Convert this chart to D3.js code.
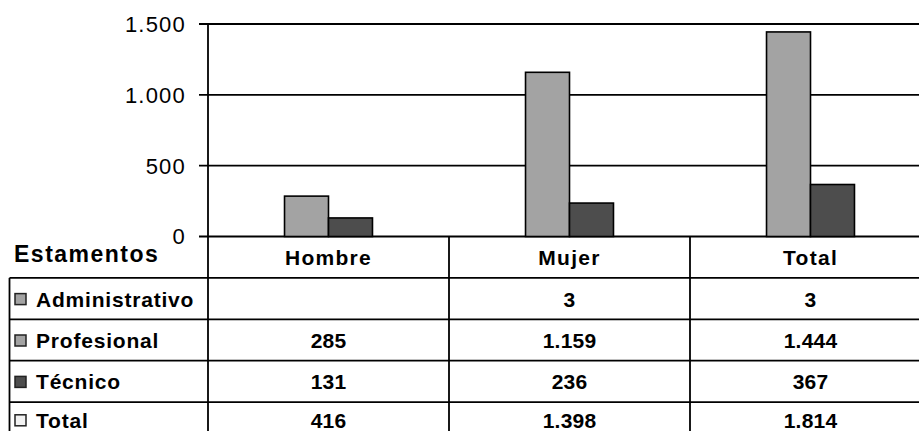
<!DOCTYPE html>
<html lang="es">
<head>
<meta charset="UTF-8">
<title>Estamentos</title>
<script src="https://d3js.org/d3.v7.min.js"></script>
<style>
  body { margin: 0; background: #fff; }
  svg { display: block; font-family: "Liberation Sans", Arial, sans-serif; }
</style>
</head>
<body>
<svg width="919" height="431"></svg>
<script>
// data
const categories = ["Hombre", "Mujer", "Total"];
const rowNames = ["Administrativo", "Profesional", "Técnico", "Total"];
const administrativo = [null, 3, 3];
const profesional = [285, 1159, 1444];
const tecnico = [131, 236, 367];
const totales = [416, 1398, 1814];
const yTicks = [0, 500, 1000, 1500];

const rowValues = [administrativo, profesional, tecnico, totales];
const rowColors = ["#a3a3a3", "#a3a3a3", "#4d4d4d", "#f2f2f2"];
const barSeries = [
  { name: "Profesional", values: profesional, color: "#a3a3a3" },
  { name: "Técnico", values: tecnico, color: "#4d4d4d" }
];

const locale = d3.formatLocale({ decimal: ",", thousands: ".", grouping: [3], currency: ["", ""] });
const fmt = locale.format(",d");

const svg = d3.select("svg");
const plotLeft = 208, plotRight = 931, plotTop = 24, zero = 236.5;
const rowH = 41.4, tableLeft = 9.5;

const x = d3.scaleBand().domain(categories).range([plotLeft, plotRight]);
const xs = d3.scaleBand().domain(barSeries.map(d => d.name))
  .range([0, x.bandwidth()]).paddingInner(0).paddingOuter(1.74);
const y = d3.scaleLinear().domain([0, 1500]).range([zero, plotTop]);

// gridlines + ticks
svg.append("g").selectAll("line")
  .data(yTicks).join("line")
  .attr("x1", plotLeft - 9).attr("x2", plotRight)
  .attr("y1", d => y(d)).attr("y2", d => y(d))
  .attr("stroke", "#000").attr("stroke-width", 1.8);

svg.append("g").selectAll("text")
  .data(yTicks).join("text")
  .attr("x", 186).attr("y", d => y(d))
  .attr("dy", "0.36em")
  .attr("text-anchor", "end")
  .attr("font-size", 22)
  .attr("letter-spacing", 1.2)
  .attr("fill", "#000")
  .text(d => fmt(d));

// bars
barSeries.forEach(s => {
  svg.append("g").selectAll("rect")
    .data(categories).join("rect")
    .attr("x", c => x(c) + xs(s.name))
    .attr("y", (c, i) => y(s.values[i]))
    .attr("width", xs.bandwidth())
    .attr("height", (c, i) => zero - y(s.values[i]))
    .attr("fill", s.color)
    .attr("stroke", "#000").attr("stroke-width", 1.6);
});

// table lines
const tableG = svg.append("g").attr("stroke", "#000").attr("stroke-width", 1.8);
const nRows = rowNames.length;
const tableBottom = zero + rowH * (nRows + 1);
[plotLeft, ...categories.slice(1).map(c => x(c))].forEach(xx => {
  tableG.append("line").attr("x1", xx).attr("x2", xx)
    .attr("y1", xx === plotLeft ? plotTop : zero).attr("y2", tableBottom);
});
tableG.append("line").attr("x1", tableLeft).attr("x2", tableLeft)
  .attr("y1", zero + rowH).attr("y2", tableBottom);
d3.range(1, nRows + 1).forEach(i => {
  tableG.append("line").attr("x1", tableLeft).attr("x2", plotRight)
    .attr("y1", zero + rowH * i).attr("y2", zero + rowH * i);
});

// header
svg.append("text")
  .attr("x", 14).attr("y", 262)
  .attr("font-size", 23).attr("font-weight", "bold")
  .attr("letter-spacing", 1.5)
  .text("Estamentos");

svg.append("g").selectAll("text")
  .data(categories).join("text")
  .attr("x", c => x(c) + x.bandwidth() / 2)
  .attr("y", zero + rowH / 2)
  .attr("dy", "0.36em")
  .attr("text-anchor", "middle")
  .attr("font-size", 21).attr("font-weight", "bold")
  .attr("letter-spacing", 1.3)
  .text(c => c);

// rows
rowNames.forEach((name, r) => {
  const cy = zero + rowH * (r + 1) + rowH / 2;
  const ty = r === nRows - 1 ? cy - 2.5 : cy + 0.5;
  svg.append("rect")
    .attr("x", 15).attr("y", ty - 5.5)
    .attr("width", 11).attr("height", 11)
    .attr("fill", rowColors[r])
    .attr("stroke", "#222").attr("stroke-width", 1.5);
  svg.append("text")
    .attr("x", 36).attr("y", ty).attr("dy", "0.36em")
    .attr("font-size", 21).attr("font-weight", "bold")
    .attr("letter-spacing", 0.8)
    .text(name);
  svg.append("g").selectAll("text")
    .data(categories).join("text")
    .attr("x", c => x(c) + x.bandwidth() / 2)
    .attr("y", ty).attr("dy", "0.36em")
    .attr("text-anchor", "middle")
    .attr("font-size", 21).attr("font-weight", "bold")
    .attr("letter-spacing", 0.2)
    .text((c, i) => rowValues[r][i] == null ? "" : fmt(rowValues[r][i]));
});
</script>
</body>
</html>
